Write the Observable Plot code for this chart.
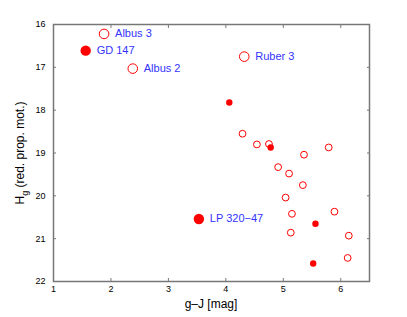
<!DOCTYPE html>
<html>
<head>
<meta charset="utf-8">
<script src="https://cdn.jsdelivr.net/npm/d3@7"></script>
<script src="https://cdn.jsdelivr.net/npm/@observablehq/plot@0.6"></script>
<style>
  body { margin: 0; background: #fff; }
  #chart svg { font-family: "Liberation Sans", Arial, sans-serif; }
</style>
</head>
<body>
<div id="chart"></div>
<script>
// Named stars (large markers)
const namedNames = ["Albus 3", "GD 147", "Albus 2", "Ruber 3", "LP 320\u221247"];
const namedGJ    = [1.88, 1.56, 2.38, 4.32, 3.53];
const namedHg    = [16.22, 16.61, 17.03, 16.75, 20.54];
const namedFilled = [false, true, false, false, true];

// Other stars (small markers)
const smallGJ = [4.06, 4.29, 4.54, 4.75, 4.78, 5.36, 5.79, 4.91, 5.10, 5.34, 5.04, 5.15, 5.89, 5.56, 5.13, 6.14, 5.52, 6.12];
const smallHg = [17.82, 18.55, 18.80, 18.79, 18.87, 19.04, 18.87, 19.33, 19.48, 19.75, 20.04, 20.42, 20.37, 20.65, 20.86, 20.93, 21.58, 21.45];
const smallFilled = [true, false, false, false, true, false, false, false, false, false, false, false, false, true, false, false, true, false];

const xTicks = [1, 2, 3, 4, 5, 6];
const yTicks = [16, 17, 18, 19, 20, 21, 22];

const named = namedNames.map((n, i) => ({name: n, gj: namedGJ[i], hg: namedHg[i], filled: namedFilled[i]}));
const small = smallGJ.map((g, i) => ({gj: g, hg: smallHg[i], filled: smallFilled[i]}));

const red = "#ff0000";
const blue = "#3333ff";
const frameColor = "#777777";

const plot = Plot.plot({
  width: 407,
  height: 317,
  marginLeft: 53,
  marginRight: 38,
  marginTop: 24,
  marginBottom: 36,
  style: {fontSize: "9px", fontFamily: "Liberation Sans, Arial, sans-serif", background: "#fff"},
  x: {domain: [1, 6.5]},
  y: {domain: [16, 22], reverse: true},
  marks: [
    Plot.axisX({ticks: xTicks, tickSize: -3, tickPadding: 7, stroke: frameColor, color: "#000", label: null, tickFormat: d => String(d)}),
    Plot.axisX({anchor: "top", ticks: xTicks, tickSize: -3, stroke: frameColor, label: null, tickFormat: () => ""}),
    Plot.axisY({ticks: yTicks, tickSize: -3, tickPadding: 11, stroke: frameColor, color: "#000", label: null, tickFormat: d => String(d)}),
    Plot.axisY({anchor: "right", ticks: yTicks, tickSize: -3, stroke: frameColor, label: null, tickFormat: () => ""}),
    Plot.frame({stroke: frameColor, strokeWidth: 1.5}),
    Plot.dot(small.filter(d => !d.filled), {x: "gj", y: "hg", r: 3.4, stroke: red, strokeWidth: 1, fill: "none"}),
    Plot.dot(small.filter(d => d.filled), {x: "gj", y: "hg", r: 3.2, fill: red, stroke: "none"}),
    Plot.dot(named.filter(d => !d.filled), {x: "gj", y: "hg", r: 4.8, stroke: red, strokeWidth: 1, fill: "none"}),
    Plot.dot(named.filter(d => d.filled), {x: "gj", y: "hg", r: 5.2, fill: red, stroke: "none"}),
    Plot.text(named, {x: "gj", y: "hg", text: "name", dx: 11, textAnchor: "start", fill: blue, fontSize: 11})
  ]
});

const svg = d3.select(plot);
// x axis label
svg.append("text")
  .attr("x", 211).attr("y", 308)
  .attr("text-anchor", "middle")
  .attr("font-size", 12)
  .attr("fill", "#000")
  .text("g\u2013J [mag]");
// y axis label with subscript
const yl = svg.append("text")
  .attr("transform", "translate(24,153) rotate(-90)")
  .attr("text-anchor", "middle")
  .attr("font-size", 12)
  .attr("fill", "#000");
yl.append("tspan").text("H");
yl.append("tspan").attr("dy", 4).attr("font-size", 9).text("g");
yl.append("tspan").attr("dy", -4).text(" (red. prop. mot.)");

document.getElementById("chart").appendChild(plot);
</script>
</body>
</html>
